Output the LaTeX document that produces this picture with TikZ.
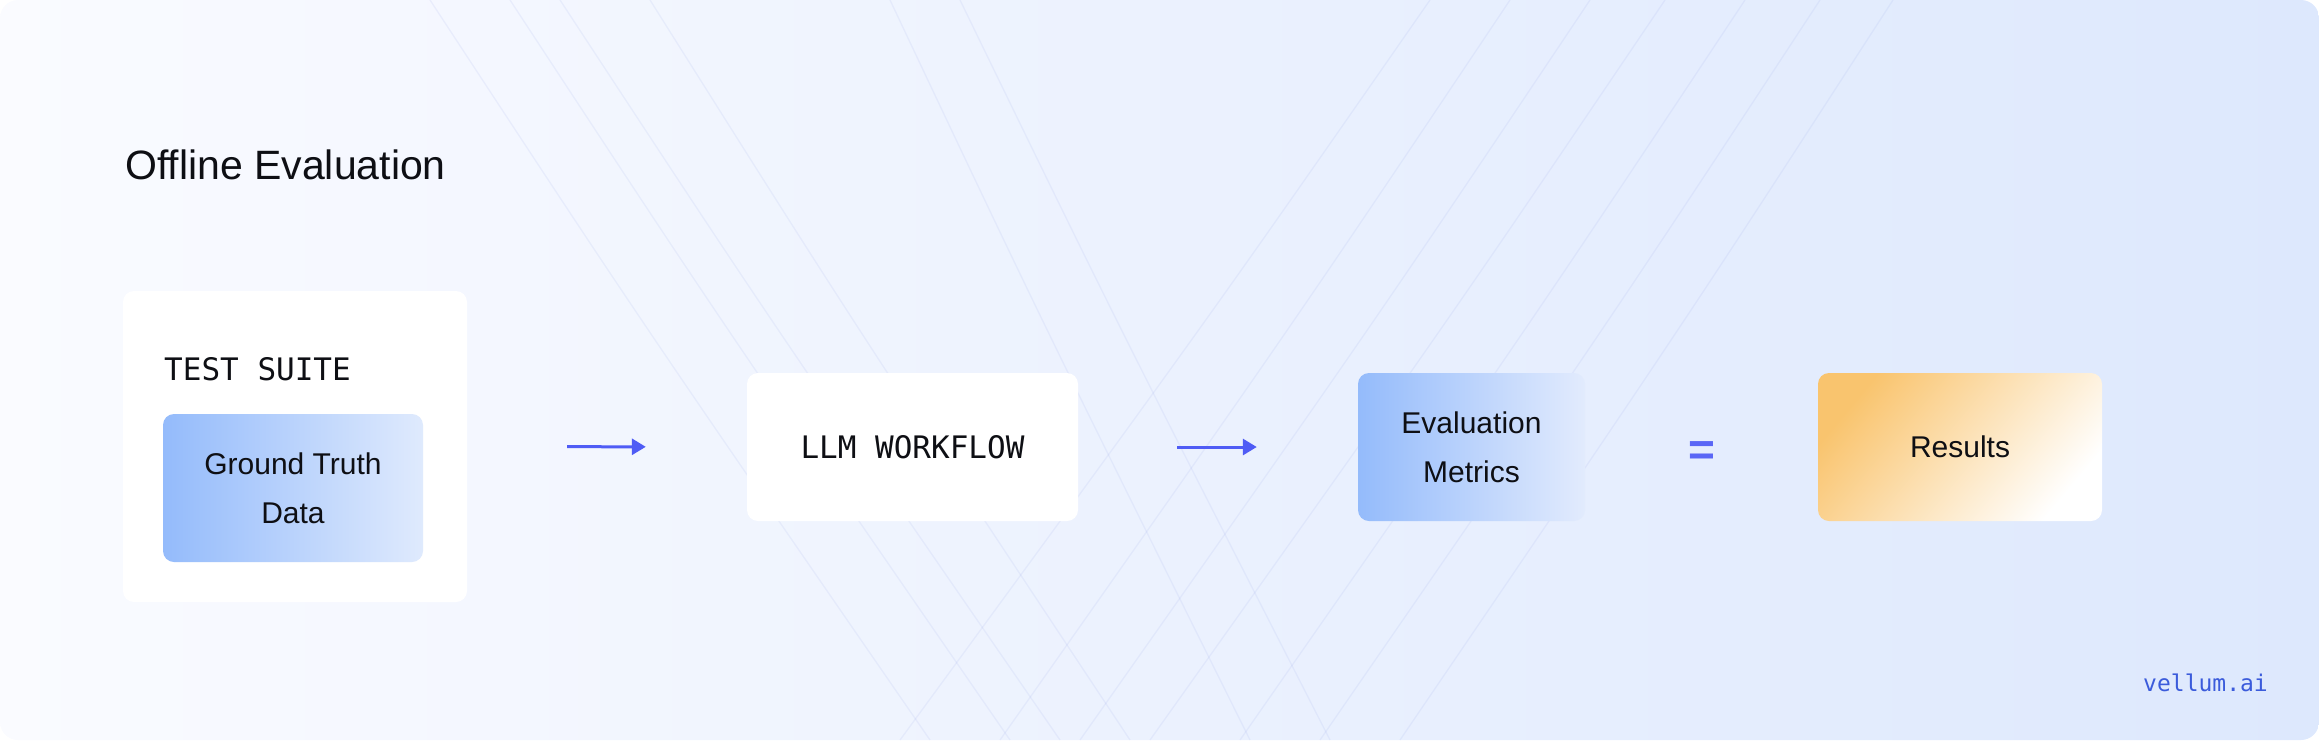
\documentclass[tikz,border=0pt]{standalone}
\usepackage{fontspec}
\setmainfont{Liberation Sans}
\newfontfamily\monof{DejaVu Sans Mono}
\newfontfamily\vmono{DejaVu Sans Mono}
\usetikzlibrary{arrows.meta}
\definecolor{bgleft}{HTML}{FAFBFF}
\definecolor{bgright}{HTML}{DDE8FD}
\definecolor{txt}{HTML}{0E0F14}
\definecolor{arrowblue}{HTML}{4F5CF5}
\definecolor{eqblue}{HTML}{5A66F6}
\definecolor{brand}{HTML}{3B5BDB}
\definecolor{gtleft}{HTML}{94BBFB}
\definecolor{gtright}{HTML}{DFEAFD}
\definecolor{emright}{HTML}{E2EBFD}
\definecolor{resorange}{HTML}{F9C46E}
\definecolor{resmid}{HTML}{FEE3BF}
\definecolor{faintline}{HTML}{8C9BE8}
\tikzset{
  whitebox/.style={fill=white, rounded corners=11pt, inner sep=0pt},
  gradbox/.style={rounded corners=11pt, inner sep=0pt, text=txt, align=center,
    font=\fontsize{30}{49}\selectfont},
  monotext/.style={text=txt, inner sep=0pt, font=\monof\fontsize{31}{36}\selectfont},
  flowarrow/.style={draw=arrowblue, line width=3pt, -{Triangle[length=14pt,width=16pt]}},
  bgline/.style={draw=faintline, opacity=0.11, line width=1.3pt}
}
\begin{document}
\begin{tikzpicture}[x=1pt,y=-1pt]
\useasboundingbox (0,0) rectangle (2319,740);
% background
\shade[left color=bgleft, right color=bgright, rounded corners=18pt] (0,0) rectangle (2319,740);
% faint background curves
\foreach \xt/\xb in {430/930, 510/1010, 560/1060, 650/1130, 890/1250, 960/1330}{
  \draw[bgline] (\xt,0) .. controls ({\xt+(\xb-\xt)*0.42},320) .. (\xb,740);
}
\foreach \xb/\xt in {900/1430, 1000/1510, 1080/1590, 1150/1665, 1240/1745, 1320/1820, 1400/1893}{
  \draw[bgline] (\xb,740) .. controls ({\xb+(\xt-\xb)*0.58},320) .. (\xt,0);
}
% title
\node[anchor=base west, inner sep=0pt, text=txt, font=\fontsize{41}{49}\selectfont] (title) at (125,179) {Offline Evaluation};
% test suite
\node[whitebox, minimum width=344pt, minimum height=311pt] (suite) at (295,446.5) {};
\node[monotext, anchor=base west] (suitelabel) at (164,380) {TEST SUITE};
\node[gradbox, left color=gtleft, right color=gtright, minimum width=260pt, minimum height=148pt] (gt) at (293,488) {Ground Truth\\Data};
% llm workflow
\node[whitebox, monotext, minimum width=331pt, minimum height=148pt] (llm) at (912.5,447) {LLM WORKFLOW};
% evaluation metrics
\node[gradbox, left color=gtleft, right color=emright, minimum width=227pt, minimum height=148pt] (eval) at (1471.5,447) {Evaluation\\Metrics};
% equals
\node[anchor=base, inner sep=0pt, text=eqblue, font=\bfseries\fontsize{46}{50}\selectfont] (eq) at (1702,465) {=};
% results
\node[gradbox, top color=resorange, middle color=resmid, bottom color=white, shading angle=50, minimum width=284pt, minimum height=148pt] (res) at (1960,447) {Results};
% arrows
\draw[flowarrow, shorten <=100pt, shorten >=101pt] (suite.east) -- (llm.west);
\draw[flowarrow, shorten <=99pt, shorten >=101pt] (llm.east) -- (eval.west);
% brand
\node[anchor=base west, inner sep=0pt, text=brand, font=\vmono\fontsize{23}{28}\selectfont] (brandlabel) at (2143,691) {vellum.ai};
\end{tikzpicture}
\end{document}
